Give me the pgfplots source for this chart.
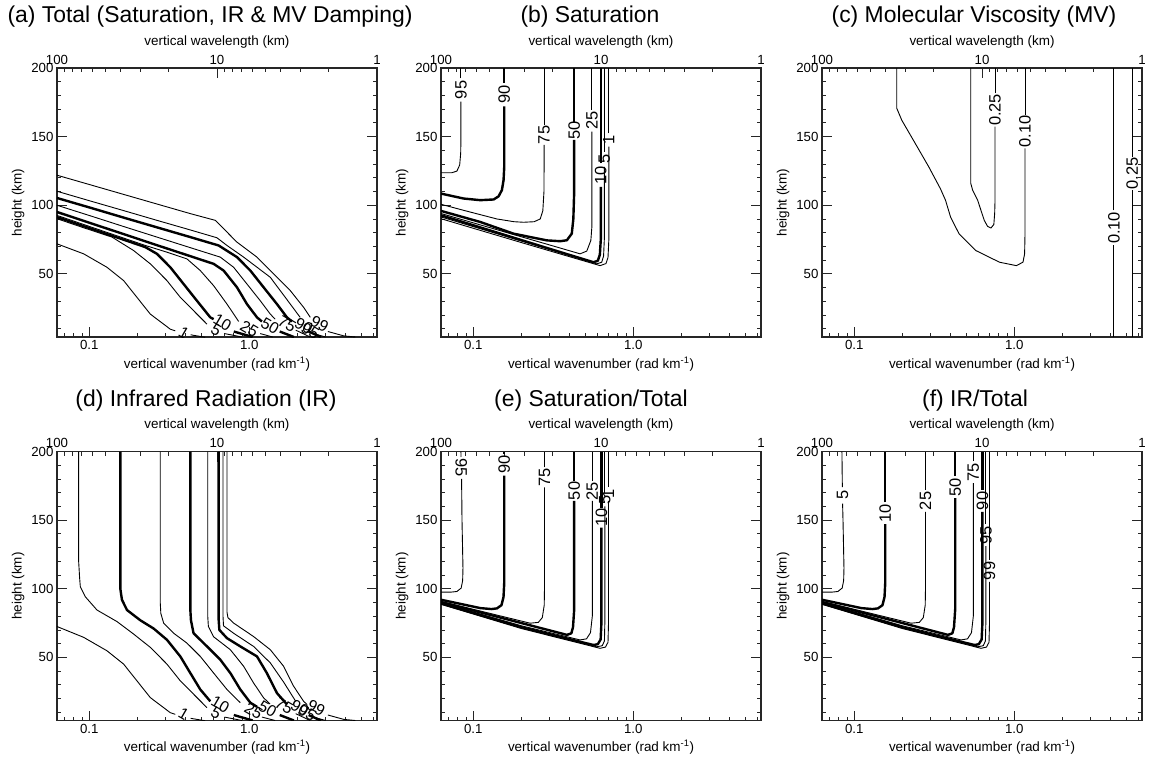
\documentclass[border=0pt]{standalone}
\usepackage{fontspec}
\setmainfont{Liberation Sans}
\usepackage{pgfplots}
\pgfplotsset{compat=1.18}
\pgfplotsset{
 every axis/.append style={scale only axis, width=320bp, height=269bp, ymin=4, ymax=200,
   tick align=inside, major tick length=10bp, minor tick length=4bp,
   axis line style={line width=1.1bp, black!85},
   tick style={line width=0.8bp, black!85},
   tick label style={font=\fontsize{13.3}{15}\selectfont},
   label style={font=\fontsize{13.5}{16}\selectfont}},
 tn/.style={line width=0.9bp, black, no markers, line join=round},
 tk/.style={line width=2.4bp, black, no markers, line join=round},
}
\tikzset{
 cl/.style={font=\fontsize{16.5}{18}\selectfont, rotate=90, inner sep=0pt},
 bl/.style={font=\fontsize{16}{18}\selectfont, rotate=-30, inner sep=0pt},
 ttl/.style={font=\fontsize{23}{27}\selectfont, anchor=base},
}
\newcommand{\topaxis}[2]{%
\begin{axis}[xmode=log, x dir=reverse, xmin=1, xmax=100,
   xtick={1,10,100}, xticklabels={1,10,100},
   minor xtick={2,3,4,5,6,7,8,9,20,30,40,50,60,70,80,90},
   axis x line*=top, axis y line=none, tick align=inside,
   xlabel={vertical wavelength (km)},
   at={(#1,#2)}, anchor=south west]
\addplot[draw=none] coordinates {(10,100)};
\end{axis}}
\begin{document}
\begin{tikzpicture}
\path[use as bounding box] (0,0) rectangle (1149bp,-762bp);
%% ---------------- (a)
\topaxis{57bp}{-337bp}
\begin{axis}[xmode=log, xmin=0.0628319, xmax=6.28319,
   xtick={0.1,1}, xticklabels={0.1,1.0},
   minor xtick={0.07,0.08,0.09,0.2,0.3,0.4,0.5,0.6,0.7,0.8,0.9,2,3,4,5,6},
   ytick={50,100,150,200}, yticklabels={50,100,150,200},
   minor ytick={10,20,30,40,60,70,80,90,110,120,130,140,160,170,180,190},
   xtick pos=bottom, ytick pos=both,
   xlabel={vertical wavenumber (rad km\textsuperscript{-1})},
   ylabel={height (km)}, at={(57bp,-337bp)}, anchor=south west]
\addplot[tn] coordinates {(0.0628,121.9)(0.1015,114.9)(0.1639,107.9)(0.2648,100.9)(0.4279,93.9)(0.6131,89.0)(0.6913,82.9)(0.8377,73.1)(1.117,62.2)(1.419,50.0)(1.804,37.8)(2.186,25.6)(2.406,18.3)};
\addplot[tn] coordinates {(3.10,8.0)(3.90,4.8)(4.6,4.0)};
\addplot[tn] coordinates {(0.0628,110.2)(0.1015,103.1)(0.1639,96.1)(0.2648,89.0)(0.4279,82.0)(0.628,76.3)(0.7254,70.7)(0.922,62.2)(1.353,47.5)(1.804,28.0)(2.08,18.3)};
\addplot[tn] coordinates {(2.60,6.0)(3.0,4.0)};
\addplot[tk] coordinates {(0.0628,105.3)(0.1015,98.2)(0.1639,91.0)(0.2648,83.9)(0.4279,76.8)(0.643,70.7)(0.8377,62.2)(1.015,52.4)(1.229,40.2)(1.489,28.0)(1.719,18.3)(1.85,15.3)};
\addplot[tk] coordinates {(2.35,8.0)(2.80,4.0)};
\addplot[tn] coordinates {(0.0628,100.0)(0.1015,92.3)(0.1639,84.5)(0.2648,76.8)(0.4279,69.1)(0.6588,62.2)(0.7983,54.8)(0.967,42.6)(1.172,30.4)(1.353,20.7)(1.45,17.0)};
\addplot[tn] coordinates {(1.95,9.0)(2.40,4.0)};
\addplot[tk] coordinates {(0.0628,95.1)(0.1015,87.0)(0.1639,79.0)(0.2648,70.9)(0.4279,62.9)(0.5986,57.3)(0.6913,52.4)(0.8377,40.2)(0.967,28.0)(1.117,18.3)(1.2,15.3)};
\addplot[tk] coordinates {(1.55,8.0)(1.9,4.0)};
\addplot[tn] coordinates {(0.0628,92.6)(0.2239,70.7)(0.3058,65.8)(0.4078,60.9)(0.4941,52.4)(0.5986,41.4)(0.7254,28.0)(0.8586,15.3)};
\addplot[tn] coordinates {(1.17,6.5)(1.4,4.0)};
\addplot[tk] coordinates {(0.0628,91.4)(0.1015,83.1)(0.1639,74.9)(0.2239,69.5)(0.2648,64.6)(0.3209,54.8)(0.3887,42.6)(0.4709,30.4)(0.5705,18.3)(0.5986,17.0)};
\addplot[tk] coordinates {(0.80,8.0)(1.05,4.0)};
\addplot[tn] coordinates {(0.0628,90.2)(0.0922,83.6)(0.1386,76.8)(0.1893,67.0)(0.2406,57.3)(0.3058,45.1)(0.3705,32.9)(0.4709,20.7)(0.5438,13.4)};
\addplot[tn] coordinates {(0.70,6.5)(0.90,4.0)};
\addplot[tn] coordinates {(0.0628,71.9)(0.0922,64.6)(0.129,54.8)(0.1639,45.1)(0.1986,32.9)(0.2406,20.7)(0.3209,9.7)(0.3448,8.5)};
\addplot[tn] coordinates {(0.43,5.6)(0.53,3.8)};
\node[bl] at (axis cs:0.39,7.3) {1};
\node[bl] at (axis cs:0.62,9) {5};
\node[bl] at (axis cs:0.68,14.5) {10};
\node[bl] at (axis cs:1.0,9.7) {25};
\node[bl] at (axis cs:1.35,12) {50};
\node[bl] at (axis cs:1.72,13.4) {75};
\node[bl] at (axis cs:2.19,12.2) {90};
\node[bl] at (axis cs:2.41,8.5) {95};
\node[bl] at (axis cs:2.75,13.4) {99};
\end{axis}
\node[ttl] at (210bp,-22bp) {(a) Total (Saturation, IR \& MV Damping)};
%% ---------------- (b)
\topaxis{441bp}{-337bp}
\begin{axis}[xmode=log, xmin=0.0628319, xmax=6.28319,
   xtick={0.1,1}, xticklabels={0.1,1.0},
   minor xtick={0.07,0.08,0.09,0.2,0.3,0.4,0.5,0.6,0.7,0.8,0.9,2,3,4,5,6},
   ytick={50,100,150,200}, yticklabels={50,100,150,200},
   minor ytick={10,20,30,40,60,70,80,90,110,120,130,140,160,170,180,190},
   xtick pos=bottom, ytick pos=both,
   xlabel={vertical wavenumber (rad km\textsuperscript{-1})},
   ylabel={height (km)}, at={(441bp,-337bp)}, anchor=south west]
\addplot[tn] coordinates {(0.0628,123.7)(0.0735,123.7)(0.079,124.9)(0.0822,129.3)(0.0834,137.8)(0.0837,147.6)(0.0837,175.5)};
\addplot[tn] coordinates {(0.0837,192.5)(0.0837,200)};
\node[cl] at (axis cs:0.0837,184) {95};
\addplot[tk] coordinates {(0.0628,108.5)(0.087,104.9)(0.1106,103.7)(0.134,104.2)(0.1439,106.5)(0.1509,111)(0.1546,118.3)(0.1561,128)(0.1561,172)};
\addplot[tk] coordinates {(0.1561,189)(0.1561,200)};
\node[cl] at (axis cs:0.1561,180.5) {90};
\addplot[tn] coordinates {(0.0628,100.7)(0.087,96.3)(0.1405,90)(0.18,88)(0.206,87.6)(0.24,88)(0.262,90)(0.272,96)(0.2765,110)(0.2773,143.9)};
\addplot[tn] coordinates {(0.2773,158.5)(0.2773,200)};
\node[cl] at (axis cs:0.2773,151.2) {75};
\addplot[tk] coordinates {(0.0628,95.9)(0.1106,87.8)(0.1785,79.3)(0.2881,74.4)(0.35,73.8)(0.3846,74.5)(0.4126,79.3)(0.422,90)(0.4272,110)(0.4272,147.6)};
\addplot[tk] coordinates {(0.4272,161)(0.4272,200)};
\node[cl] at (axis cs:0.4272,154.3) {50};
\addplot[tn] coordinates {(0.0628,94)(0.2,77)(0.35,68.8)(0.465,64.6)(0.512,66.6)(0.543,74.4)(0.5507,84)(0.5507,153.7)};
\addplot[tn] coordinates {(0.5507,169.5)(0.5507,200)};
\node[cl] at (axis cs:0.5507,161.6) {25};
\addplot[tk] coordinates {(0.0628,92.7)(0.2,74.6)(0.4,63.8)(0.5636,58.5)(0.60,59.5)(0.618,64)(0.6265,75)(0.6265,113.4)};
\addplot[tk] coordinates {(0.6265,130.5)(0.6265,200)};
\node[cl] at (axis cs:0.6265,122) {10};
\addplot[tn] coordinates {(0.0628,91.5)(0.2,73.9)(0.4,63.3)(0.5917,57.3)(0.635,58.5)(0.652,63)(0.659,75)(0.659,128)};
\addplot[tn] coordinates {(0.659,139)(0.659,200)};
\node[cl] at (axis cs:0.659,133.5) {5};
\addplot[tn] coordinates {(0.0628,90.2)(0.2,72.8)(0.4,62.5)(0.62,56)(0.675,57.5)(0.695,62)(0.7034,75)(0.7034,142.7)};
\addplot[tn] coordinates {(0.7034,152.4)(0.7034,200)};
\node[cl] at (axis cs:0.7034,147.5) {1};
\end{axis}
\node[ttl] at (590bp,-22bp) {(b) Saturation};
%% ---------------- (c)
\topaxis{822bp}{-337bp}
\begin{axis}[xmode=log, xmin=0.0628319, xmax=6.28319,
   xtick={0.1,1}, xticklabels={0.1,1.0},
   minor xtick={0.07,0.08,0.09,0.2,0.3,0.4,0.5,0.6,0.7,0.8,0.9,2,3,4,5,6},
   ytick={50,100,150,200}, yticklabels={50,100,150,200},
   minor ytick={10,20,30,40,60,70,80,90,110,120,130,140,160,170,180,190},
   xtick pos=bottom, ytick pos=both,
   xlabel={vertical wavenumber (rad km\textsuperscript{-1})},
   ylabel={height (km)}, at={(822bp,-337bp)}, anchor=south west]
\addplot[tn] coordinates {(0.1842,200)(0.1842,170.7)(0.198,162)(0.2405,145)(0.292,128)(0.3455,112)(0.3716,103.7)(0.3995,91.5)(0.451,79.3)(0.5747,67)(0.808,58.5)(1.03,56)(1.133,58.5)(1.16,64.6)(1.167,80)(1.167,141.5)};
\addplot[tn] coordinates {(1.167,165.9)(1.167,200)};
\node[cl] at (axis cs:1.167,153.7) {0.10};
\addplot[tn] coordinates {(0.5346,200)(0.5346,115.9)(0.549,111)(0.590,103.7)(0.619,96.3)(0.649,89)(0.681,84.6)(0.715,83.4)(0.745,86)(0.754,93.9)(0.758,103.7)(0.758,157.3)};
\addplot[tn] coordinates {(0.758,181.7)(0.758,200)};
\node[cl] at (axis cs:0.758,169.5) {0.25};
\addplot[tn] coordinates {(4.19,4)(4.19,70.7)};
\addplot[tn] coordinates {(4.19,96.3)(4.19,200)};
\node[cl] at (axis cs:4.19,83.5) {0.10};
\addplot[tn] coordinates {(5.45,4)(5.45,111)};
\addplot[tn] coordinates {(5.45,135.4)(5.45,200)};
\node[cl] at (axis cs:5.45,123.2) {0.25};
\end{axis}
\node[ttl] at (974bp,-22bp) {(c) Molecular Viscosity (MV)};
%% ---------------- (d)
\topaxis{57bp}{-720.5bp}
\begin{axis}[xmode=log, xmin=0.0628319, xmax=6.28319,
   xtick={0.1,1}, xticklabels={0.1,1.0},
   minor xtick={0.07,0.08,0.09,0.2,0.3,0.4,0.5,0.6,0.7,0.8,0.9,2,3,4,5,6},
   ytick={50,100,150,200}, yticklabels={50,100,150,200},
   minor ytick={10,20,30,40,60,70,80,90,110,120,130,140,160,170,180,190},
   xtick pos=bottom, ytick pos=both,
   xlabel={vertical wavenumber (rad km\textsuperscript{-1})},
   ylabel={height (km)}, at={(57bp,-720.5bp)}, anchor=south west]
\addplot[tn] coordinates {(0.0628,72.5)(0.0922,64.6)(0.129,54.8)(0.1639,45.1)(0.1986,32.9)(0.2406,20.7)(0.3209,9.7)(0.3448,8.5)};
\addplot[tn] coordinates {(0.43,5.6)(0.53,3.8)};
\addplot[tn] coordinates {(0.0858,200)(0.0858,120)(0.0870,108)(0.0879,101.4)(0.0944,94.2)(0.1117,84.5)(0.1489,76.1)(0.1893,67.0)(0.2406,57.3)(0.3058,45.1)(0.3705,32.9)(0.4709,20.7)(0.5438,13.4)};
\addplot[tn] coordinates {(0.70,6.5)(0.90,4.0)};
\addplot[tk] coordinates {(0.1563,200)(0.1563,100)(0.160,92)(0.172,84.5)(0.2086,77)(0.2525,71)(0.3058,62.8)(0.3705,50.7)(0.4279,38.6)(0.494,26.6)(0.5705,18)};
\addplot[tk] coordinates {(0.80,8.0)(1.05,4.0)};
\addplot[tn] coordinates {(0.2776,200)(0.2776,90)(0.2800,82)(0.2915,75)(0.3368,67.6)(0.4078,60.4)(0.494,50.7)(0.5986,38.6)(0.7254,26.6)(0.8786,17)};
\addplot[tn] coordinates {(1.2,6.5)(1.45,4.0)};
\addplot[tk] coordinates {(0.4279,200)(0.4279,85)(0.432,77)(0.4483,67.6)(0.5438,58)(0.6588,48.3)(0.761,38.6)(0.8786,26.6)(1.015,17)(1.117,14)};
\addplot[tk] coordinates {(1.55,8.0)(1.9,4.0)};
\addplot[tn] coordinates {(0.55,200)(0.55,80)(0.555,72.5)(0.5986,65)(0.761,55.6)(0.922,43.5)(1.063,31.4)(1.229,20.5)(1.35,16)};
\addplot[tn] coordinates {(1.95,9.0)(2.40,4.0)};
\addplot[tk] coordinates {(0.643,200)(0.643,78)(0.65,70)(0.7254,64)(0.8786,58)(1.117,50.7)(1.287,38.6)(1.489,24)(1.719,15.7)};
\addplot[tk] coordinates {(2.35,8.0)(2.80,4.0)};
\addplot[tn] coordinates {(0.685,200)(0.685,80)(0.69,73)(0.798,67.6)(1.063,58)(1.353,46)(1.639,32)(1.95,18)};
\addplot[tn] coordinates {(2.60,6.0)(3.0,4.0)};
\addplot[tn] coordinates {(0.7254,200)(0.7254,83)(0.735,79)(0.798,75)(1.063,65.2)(1.353,55.6)(1.639,43.5)(1.892,29)(2.186,18)(2.3,15.5)};
\addplot[tn] coordinates {(3.10,8.0)(3.90,4.8)(4.6,4.0)};
\node[bl] at (axis cs:0.389,8.5) {1};
\node[bl] at (axis cs:0.62,9.5) {5};
\node[bl] at (axis cs:0.66,15.7) {10};
\node[bl] at (axis cs:1.063,10.9) {25};
\node[bl] at (axis cs:1.30,12.5) {50};
\node[bl] at (axis cs:1.65,14.5) {75};
\node[bl] at (axis cs:2.07,13.3) {90};
\node[bl] at (axis cs:2.3,9.5) {95};
\node[bl] at (axis cs:2.62,13.3) {99};
\end{axis}
\node[ttl] at (206bp,-406bp) {(d) Infrared Radiation (IR)};
%% ---------------- (e)
\topaxis{441bp}{-720.5bp}
\begin{axis}[xmode=log, xmin=0.0628319, xmax=6.28319,
   xtick={0.1,1}, xticklabels={0.1,1.0},
   minor xtick={0.07,0.08,0.09,0.2,0.3,0.4,0.5,0.6,0.7,0.8,0.9,2,3,4,5,6},
   ytick={50,100,150,200}, yticklabels={50,100,150,200},
   minor ytick={10,20,30,40,60,70,80,90,110,120,130,140,160,170,180,190},
   xtick pos=bottom, ytick pos=both,
   xlabel={vertical wavenumber (rad km\textsuperscript{-1})},
   ylabel={height (km)}, at={(441bp,-720.5bp)}, anchor=south west]
\addplot[tn] coordinates {(0.0628,97.6)(0.072,97.5)(0.079,98)(0.084,100.5)(0.0858,106)(0.0862,115)(0.085,150)(0.0845,180)};
\addplot[tn] coordinates {(0.0838,196)(0.0837,200)};
\node[cl, rotate=180] at (axis cs:0.0842,188) {95};
\addplot[tk] coordinates {(0.0628,92)(0.1106,85.9)(0.13,85.2)(0.1405,85.7)(0.150,88)(0.1545,94)(0.1562,105)(0.1562,182.4)};
\addplot[tk] coordinates {(0.1562,198.3)(0.1562,200)};
\node[cl] at (axis cs:0.1562,190.3) {90};
\addplot[tn] coordinates {(0.0628,90.8)(0.15,80)(0.2267,74.9)(0.255,75.5)(0.27,79)(0.2775,88)(0.2786,100)(0.2786,173.9)};
\addplot[tn] coordinates {(0.2786,188.5)(0.2786,200)};
\node[cl] at (axis cs:0.2786,181.2) {75};
\addplot[tk] coordinates {(0.0628,90.3)(0.2,75)(0.3846,66.4)(0.41,67.5)(0.42,72)(0.4272,85)(0.4272,164)};
\addplot[tk] coordinates {(0.4272,178.7)(0.4272,200)};
\node[cl] at (axis cs:0.4272,171.3) {50};
\addplot[tn] coordinates {(0.0628,89.8)(0.2,73)(0.465,62.7)(0.51,63.5)(0.54,68)(0.5545,80)(0.5545,164)};
\addplot[tn] coordinates {(0.5545,178.5)(0.5545,200)};
\node[cl] at (axis cs:0.5545,171.2) {25};
\addplot[tk] coordinates {(0.0628,89.3)(0.2,72)(0.5636,59)(0.60,59.6)(0.625,63)(0.632,75)(0.632,144.5)};
\addplot[tk] coordinates {(0.632,159.2)(0.632,200)};
\node[cl] at (axis cs:0.632,151.8) {10};
\addplot[tn] coordinates {(0.0628,89)(0.2,71.5)(0.59,57.7)(0.64,58.5)(0.66,62)(0.664,75)(0.664,160)};
\addplot[tn] coordinates {(0.664,170)(0.664,200)};
\node[cl] at (axis cs:0.664,165) {5};
\addplot[tn] coordinates {(0.0628,88.7)(0.2,71)(0.62,56.6)(0.67,57.5)(0.695,61)(0.70,75)(0.70,164)};
\addplot[tn] coordinates {(0.70,174)(0.70,200)};
\node[cl] at (axis cs:0.70,169) {1};
\end{axis}
\node[ttl] at (591bp,-406bp) {(e) Saturation/Total};
%% ---------------- (f)
\topaxis{822bp}{-720.5bp}
\begin{axis}[xmode=log, xmin=0.0628319, xmax=6.28319,
   xtick={0.1,1}, xticklabels={0.1,1.0},
   minor xtick={0.07,0.08,0.09,0.2,0.3,0.4,0.5,0.6,0.7,0.8,0.9,2,3,4,5,6},
   ytick={50,100,150,200}, yticklabels={50,100,150,200},
   minor ytick={10,20,30,40,60,70,80,90,110,120,130,140,160,170,180,190},
   xtick pos=bottom, ytick pos=both,
   xlabel={vertical wavenumber (rad km\textsuperscript{-1})},
   ylabel={height (km)}, at={(822bp,-720.5bp)}, anchor=south west]
\addplot[tn] coordinates {(0.0628,97.6)(0.072,97.5)(0.079,98)(0.084,100.5)(0.0858,106)(0.0862,115)(0.085,150)(0.0845,162)};
\addplot[tn] coordinates {(0.0842,174)(0.0837,200)};
\node[cl] at (axis cs:0.0845,168) {5};
\addplot[tk] coordinates {(0.0628,92)(0.1106,85.9)(0.13,85.2)(0.1405,85.7)(0.150,88)(0.1545,94)(0.1562,105)(0.1562,147)};
\addplot[tk] coordinates {(0.1562,163)(0.1562,200)};
\node[cl] at (axis cs:0.1562,155) {10};
\addplot[tn] coordinates {(0.0628,90.8)(0.15,80)(0.2267,74.9)(0.255,75.5)(0.27,79)(0.2775,88)(0.2786,100)(0.2786,156)};
\addplot[tn] coordinates {(0.2786,172)(0.2786,200)};
\node[cl] at (axis cs:0.2786,164) {25};
\addplot[tk] coordinates {(0.0628,90.3)(0.2,75)(0.3846,66.4)(0.41,67.5)(0.42,72)(0.4272,85)(0.4272,166)};
\addplot[tk] coordinates {(0.4272,182)(0.4272,200)};
\node[cl] at (axis cs:0.4272,174) {50};
\addplot[tn] coordinates {(0.0628,89.8)(0.2,73)(0.465,62.7)(0.51,63.5)(0.54,68)(0.5545,80)(0.5545,177)};
\addplot[tn] coordinates {(0.5545,193)(0.5545,200)};
\node[cl] at (axis cs:0.5545,185) {75};
\addplot[tk] coordinates {(0.0628,89.3)(0.2,72)(0.5636,59)(0.60,59.6)(0.625,63)(0.632,75)(0.632,156)};
\addplot[tk] coordinates {(0.632,172)(0.632,200)};
\node[cl] at (axis cs:0.632,164) {90};
\addplot[tn] coordinates {(0.0628,89)(0.2,71.5)(0.59,57.7)(0.64,58.5)(0.66,62)(0.664,75)(0.664,131)};
\addplot[tn] coordinates {(0.664,147)(0.664,200)};
\node[cl] at (axis cs:0.664,139) {95};
\addplot[tn] coordinates {(0.0628,88.7)(0.2,71)(0.62,56.6)(0.67,57.5)(0.695,61)(0.70,75)(0.70,105)};
\addplot[tn] coordinates {(0.70,121)(0.70,200)};
\node[cl] at (axis cs:0.70,113) {99};
\end{axis}
\node[ttl] at (975bp,-406bp) {(f) IR/Total};
\end{tikzpicture}
\end{document}
